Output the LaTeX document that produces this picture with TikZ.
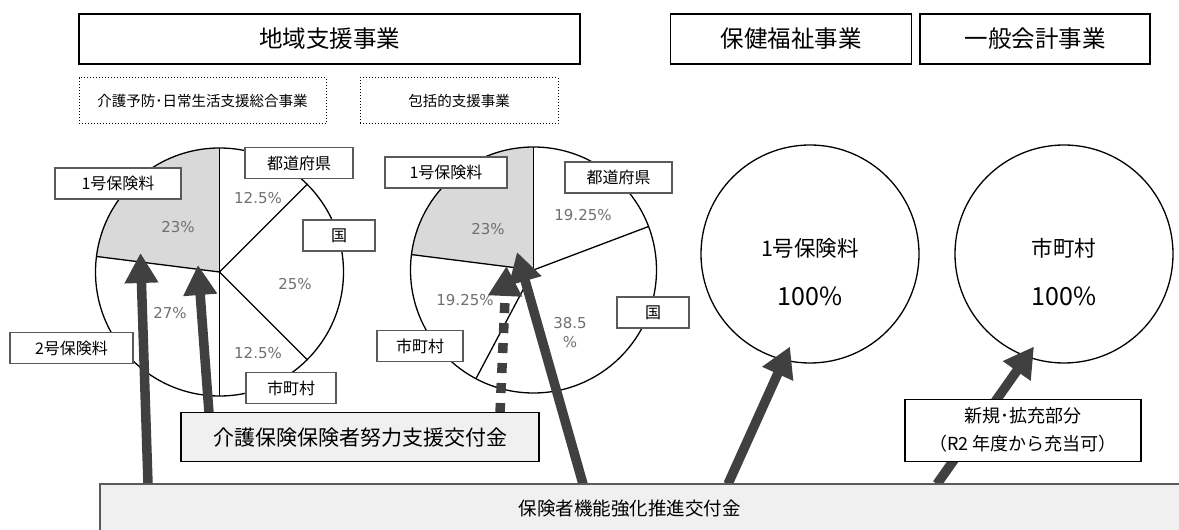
\documentclass[tikz,border=0pt]{standalone}
\usepackage{fontspec}
\setmainfont{Noto Sans CJK JP}
\newfontfamily\pctfont{DejaVu Sans}
\usetikzlibrary{arrows.meta}
\definecolor{arrowgray}{HTML}{404040}
\definecolor{pctgray}{HTML}{707070}
\definecolor{slicegray}{HTML}{D9D9D9}
\definecolor{lblborder}{HTML}{5A5A5A}
\definecolor{boxfill}{HTML}{F0F0F0}
\begin{document}
\begin{tikzpicture}[x=1pt,y=1pt,
  topbox/.style={draw=black, line width=1.5pt, minimum height=50pt, inner sep=0pt, font=\fontsize{23.5}{26}\selectfont},
  subbox/.style={draw=black, dotted, line width=1pt, minimum height=46pt, inner sep=0pt, font=\fontsize{14.5}{16}\selectfont},
  lbl/.style={draw=lblborder, line width=1.3pt, fill=white, inner sep=0pt, minimum height=31pt, font=\fontsize{16}{18}\selectfont},
  pct/.style={text=pctgray, inner sep=0pt, font=\pctfont\fontsize{15}{17}\selectfont},
  pieline/.style={line width=1.3pt},
  bigcircle/.style={draw=black, circle, line width=1.3pt, minimum size=218pt, inner sep=0pt},
  circtext/.style={inner sep=0pt, font=\fontsize{21.5}{24}\selectfont},
  circpct/.style={inner sep=0pt, font=\fontsize{25}{28}\selectfont},
  bigarrow/.style={draw=arrowgray, line width=9.5pt, -{Triangle[width=32pt,length=30pt]}},
  dotarrow/.style={bigarrow, dash pattern=on 10pt off 10pt},
  grantbox/.style={draw=black, line width=1.5pt, fill=boxfill, inner sep=0pt},
]
\useasboundingbox (0,0) rectangle (1179,530);

% header boxes
\node[topbox, minimum width=501pt] (hdrA) at (329.5,491) {地域支援事業};
\node[topbox, minimum width=241pt] (hdrB) at (791,491) {保健福祉事業};
\node[topbox, minimum width=230pt] (hdrC) at (1035,491) {一般会計事業};
\node[subbox, minimum width=247pt] (subA) at (202.5,429) {介護予防･日常生活支援総合事業};
\node[subbox, minimum width=198pt] (subB) at (459,429) {包括的支援事業};

% pie 1
\coordinate (p1) at (219.5,258);
\fill[slicegray] (p1) -- ++(90:124) arc[start angle=90, end angle=172.8, radius=124] -- cycle;
\draw[pieline] (p1) circle[radius=124];
\foreach \a in {90,172.8,270,315,45} \draw[pieline] (p1) -- ++(\a:124);
\node[pct] (q1a) at (258,332) {12.5\%};
\node[pct] (q1b) at (178,303) {23\%};
\node[pct] (q1c) at (295,246) {25\%};
\node[pct] (q1d) at (170,217) {27\%};
\node[pct] (q1e) at (258,177) {12.5\%};

% pie 2
\coordinate (p2) at (533.5,260);
\fill[slicegray] (p2) -- ++(90:123) arc[start angle=90, end angle=172.8, radius=123] -- cycle;
\draw[pieline] (p2) circle[radius=123];
\foreach \a in {90,172.8,242.1,20.7} \draw[pieline] (p2) -- ++(\a:123);
\node[pct] (q2a) at (583,315) {19.25\%};
\node[pct] (q2b) at (488,301) {23\%};
\node[pct] (q2c) at (465,230) {19.25\%};
\node[pct, align=center, font=\pctfont\fontsize{15}{19}\selectfont] (q2d) at (570,197) {38.5\\\%};

% labels pie 1
\node[lbl, minimum width=126pt] (l1a) at (118,346.5) {1号保険料};
\node[lbl, minimum width=108pt] (l1b) at (299,367) {都道府県};
\node[lbl, minimum width=72pt] (l1c) at (339,294.5) {国};
\node[lbl, minimum width=90pt] (l1d) at (291,142) {市町村};
\node[lbl, minimum width=123pt] (l1e) at (71.5,182) {2号保険料};
% labels pie 2
\node[lbl, minimum width=122pt] (l2a) at (446,357.5) {1号保険料};
\node[lbl, minimum width=107pt] (l2b) at (618.5,352.5) {都道府県};
\node[lbl, minimum width=72pt] (l2c) at (653,217.5) {国};
\node[lbl, minimum width=86pt] (l2d) at (420,184) {市町村};

% circles
\node[bigcircle] (c1) at (810,276) {};
\node[circtext] (c1t) at (810,282) {1号保険料};
\node[circpct] (c1p) at (810,234) {100\%};
\node[bigcircle] (c2) at (1064,276) {};
\node[circtext] (c2t) at (1064,282) {市町村};
\node[circpct] (c2p) at (1064,234) {100\%};

% arrow ends
\coordinate (b1) at (148,46);    \coordinate (t1) at (140.5,277);
\coordinate (b2) at (209,117);   \coordinate (t2) at (198,265);
\coordinate (b3) at (500,117);   \coordinate (t3) at (506.5,264);
\coordinate (b4) at (583,46);    \coordinate (t4) at (517,278);
\coordinate (b5) at (728,46);    \coordinate (t5) at (790,183.5);
\coordinate (b6) at (937,46);    \coordinate (t6) at (1034,183.5);

\draw[bigarrow] (b1) -- (t1);
\draw[bigarrow] (b2) -- (t2);
\draw[dotarrow] (b3) -- (t3);
\draw[bigarrow] (b4) -- (t4);
\draw[bigarrow] (b5) -- (t5);
\draw[bigarrow] (b6) -- (t6);

% grant boxes
\node[grantbox, minimum width=358pt, minimum height=49pt, font=\fontsize{21}{24}\selectfont] (effort) at (360,92.8) {介護保険保険者努力支援交付金};
\node[draw=black, line width=1.5pt, fill=white, inner sep=0pt, minimum width=236pt, minimum height=62pt, align=center, font=\fontsize{18}{28}\selectfont] (newpart) at (1023,99.7) {新規･拡充部分\\（R2 年度から充当可）};
\fill[boxfill] (100,-5) rectangle (1185,46);
\draw[lblborder, line width=1.3pt] (100,-5) -- (100,46) -- (1185,46);
\node[inner sep=0pt, font=\fontsize{18.5}{20}\selectfont] (promo) at (629.5,21) {保険者機能強化推進交付金};
\end{tikzpicture}
\end{document}
